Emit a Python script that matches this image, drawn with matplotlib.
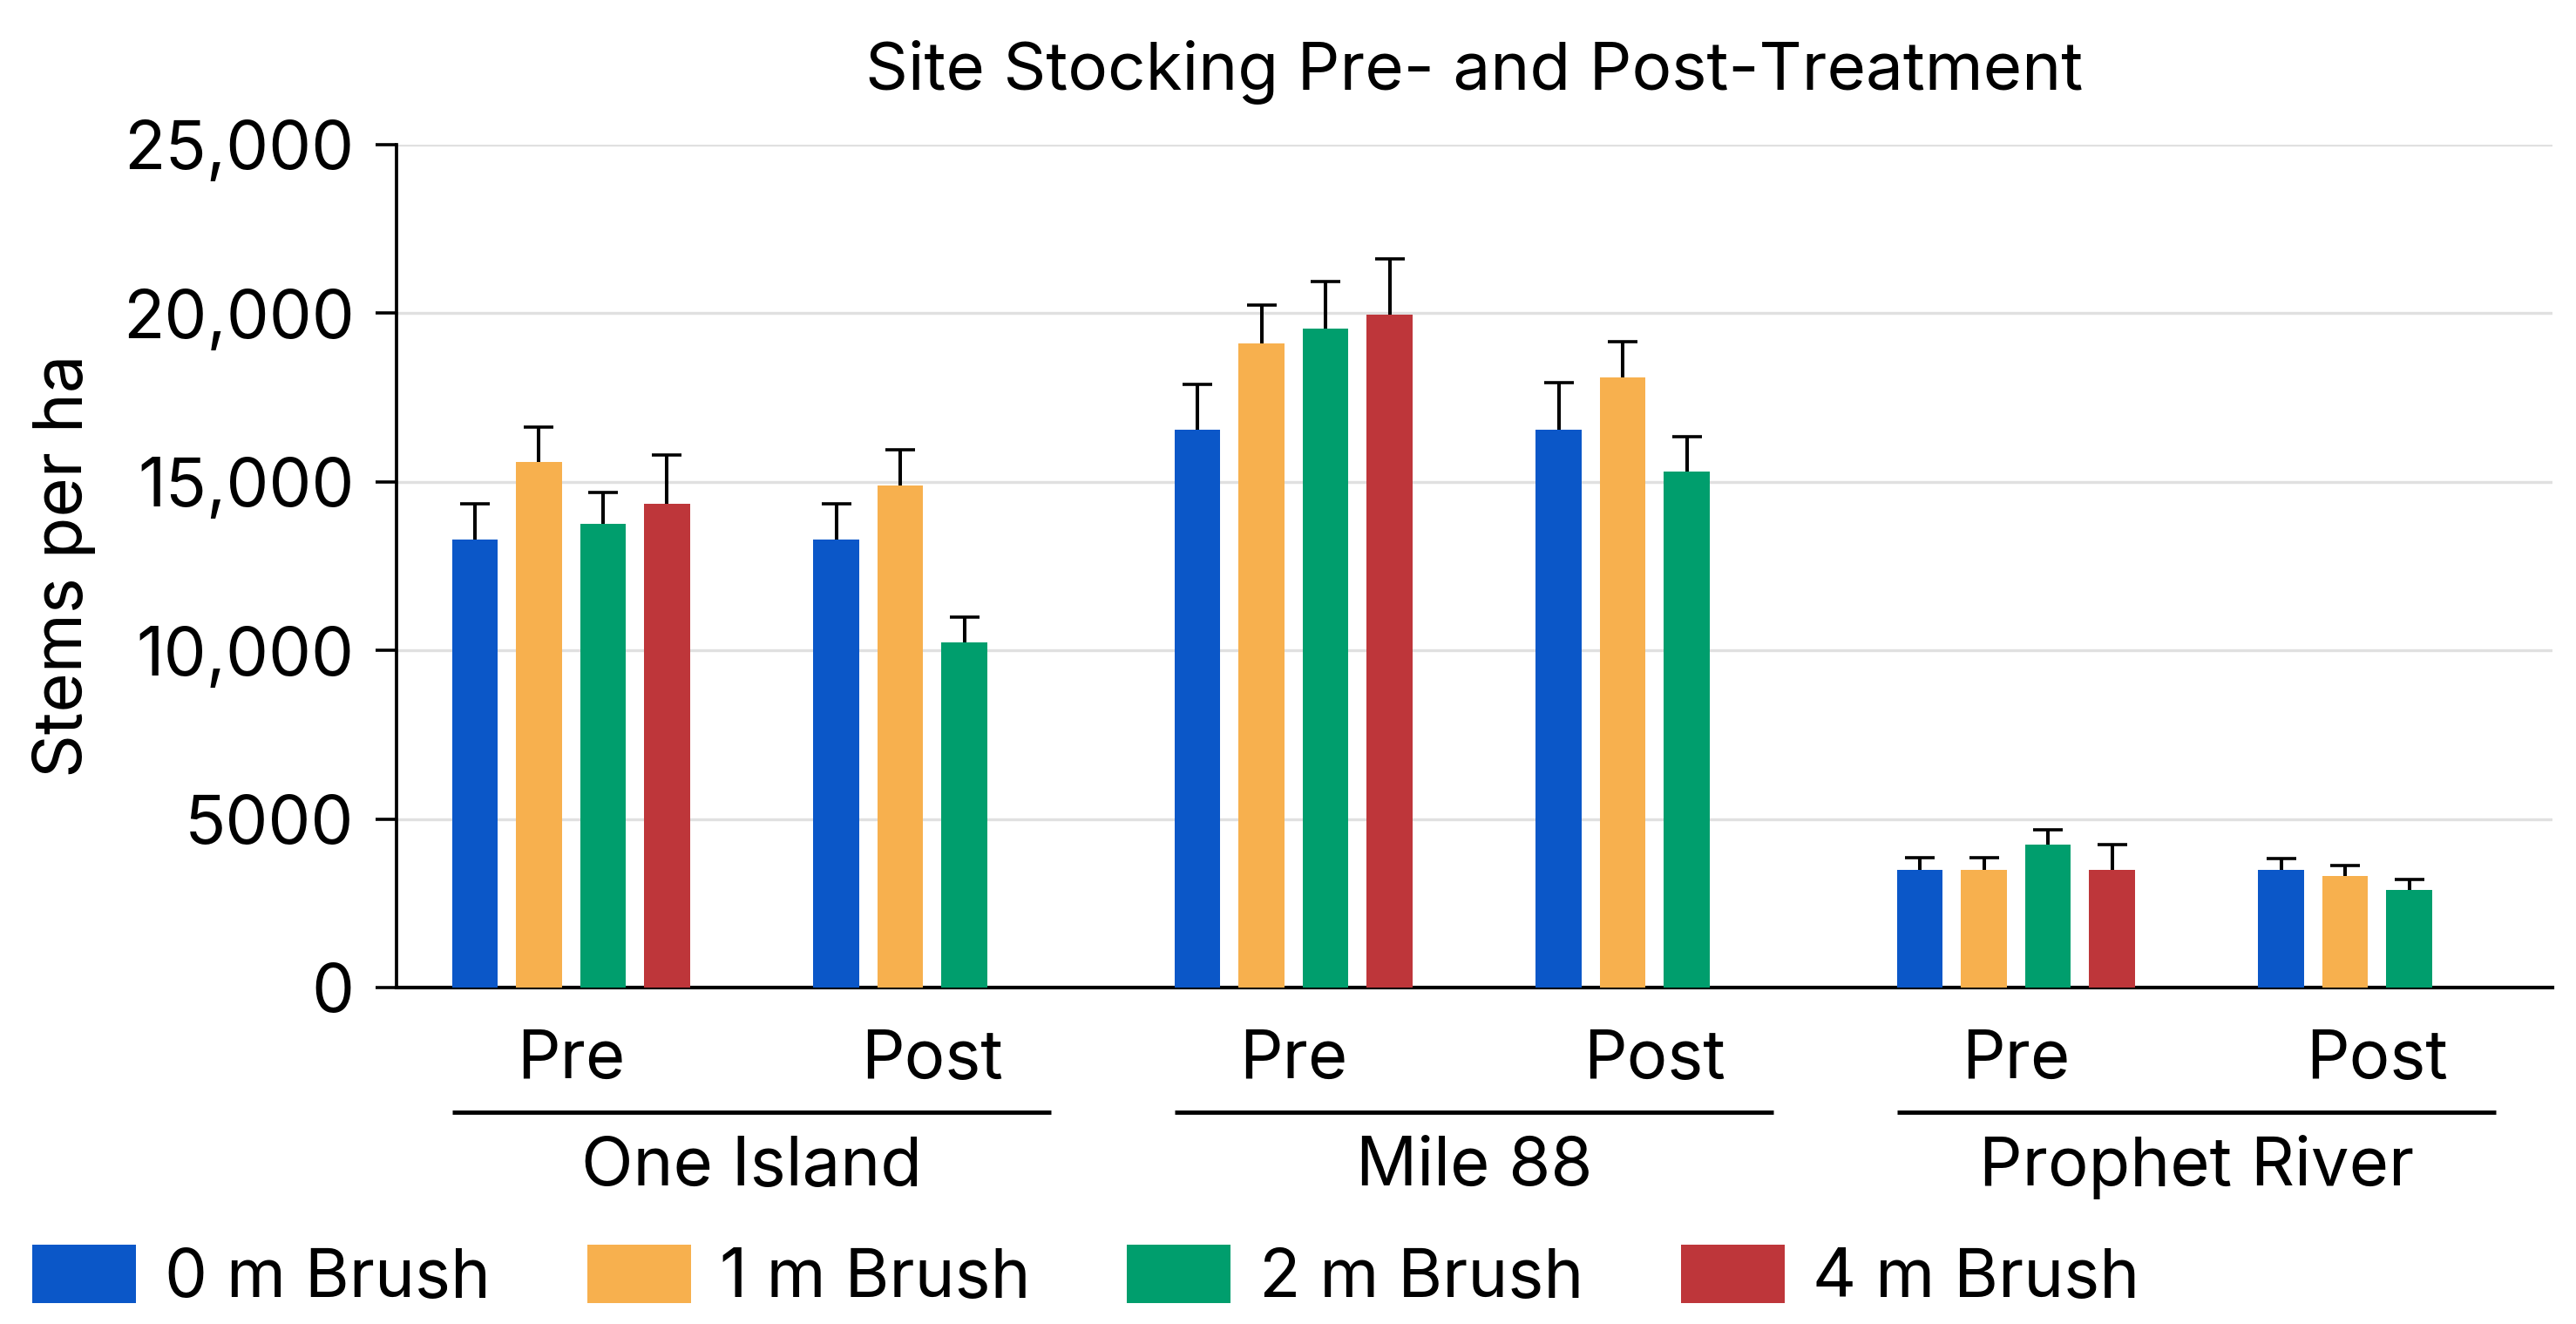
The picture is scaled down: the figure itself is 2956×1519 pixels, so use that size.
import matplotlib
matplotlib.use('Agg')
import matplotlib.pyplot as plt
import numpy as np

plt.rcParams['font.family'] = ['Inter', 'DejaVu Sans']

# data
sites = ['One Island', 'Mile 88', 'Prophet River']
phases = ['Pre', 'Post', 'Pre', 'Post', 'Pre', 'Post']
series_names = ['0 m Brush', '1 m Brush', '2 m Brush', '4 m Brush']

brush_0m = [13300, 13300, 16550, 16550, 3500, 3500]
brush_1m = [15600, 14900, 19100, 18100, 3500, 3300]
brush_2m = [13750, 10250, 19550, 15300, 4250, 2900]
brush_4m = [14350, np.nan, 19950, np.nan, 3500, np.nan]

err_0m = [1050, 1050, 1350, 1380, 350, 330]
err_1m = [1030, 1050, 1150, 1050, 350, 315]
err_2m = [940, 735, 1380, 1050, 440, 315]
err_4m = [1450, np.nan, 1660, np.nan, 750, np.nan]

y_ticks = [0, 5000, 10000, 15000, 20000, 25000]
y_tick_labels = ['0', '5000', '10,000', '15,000', '20,000', '25,000']

colors = ['#0b57c8', '#f7b04e', '#009e6d', '#be363a']

values = [brush_0m, brush_1m, brush_2m, brush_4m]
errors = [err_0m, err_1m, err_2m, err_4m]

W, H = 2956, 1519
fig = plt.figure(figsize=(W / 100, H / 100), dpi=100)
ax = fig.add_axes([455 / W, 1 - 1133 / H, (2929 - 455) / W, (1133 - 166) / H])

fs = 56
pitch = 0.1773
width = 0.1266
x = np.arange(len(phases))

bars = []
for k, (vals, errs, col) in enumerate(zip(values, errors, colors)):
    vals = np.array(vals, dtype=float)
    errs = np.array(errs, dtype=float)
    b = ax.bar(x + (k - 1.5) * pitch, vals, width, color=col,
               yerr=[np.zeros_like(errs), errs],
               error_kw=dict(ecolor='black', elinewidth=2.9, capsize=12, capthick=2.6),
               label=series_names[k], zorder=3)
    # only the upper cap is drawn in the original
    b.errorbar.lines[1][0].set_visible(False)
    bars.append(b)

ax.set_xlim(-0.483, 5.485)
ax.set_ylim(0, 25000)
ax.set_yticks(y_ticks)
ax.set_yticklabels(y_tick_labels)
ax.set_xticks(x)
ax.set_xticklabels(phases)
ax.tick_params(axis='y', labelsize=fs, length=17, width=2.6, pad=18)
ax.tick_params(axis='x', labelsize=fs, length=0, pad=34)

ax.grid(axis='y', color='#e0e0e0', linewidth=2.4)
ax.set_axisbelow(True)
for s in ['top', 'right']:
    ax.spines[s].set_visible(False)
ax.spines['left'].set_linewidth(2.7)
ax.spines['bottom'].set_linewidth(3.0)

ax.set_title('Site Stocking Pre- and Post-Treatment', fontsize=55, pad=46)
ax.set_ylabel('Stems per ha', fontsize=fs)
ax.yaxis.set_label_coords(-0.1395, 0.5)

# site grouping under the Pre/Post labels
half = 1.5 * pitch + width / 2
trans = ax.get_xaxis_transform()
for i, site in enumerate(sites):
    x0, x1 = 2 * i, 2 * i + 1
    ax.plot([x0 - half, x1 + half], [-0.1483, -0.1483], color='black',
            linewidth=3.5, transform=trans, clip_on=False, solid_capstyle='butt')
    ax.text((x0 + x1) / 2, -0.2347, site, transform=trans, ha='center',
            va='baseline', fontsize=fs)

fig.legend(handles=bars, labels=series_names, loc='center left',
           bbox_to_anchor=(37 / W, 1 - 1466 / H), ncol=4, frameon=False,
           fontsize=fs, handlelength=1.53, handleheight=0.95,
           handletextpad=0.42, columnspacing=1.43, borderpad=0, borderaxespad=0)

fig.savefig('out.png', dpi=100)
